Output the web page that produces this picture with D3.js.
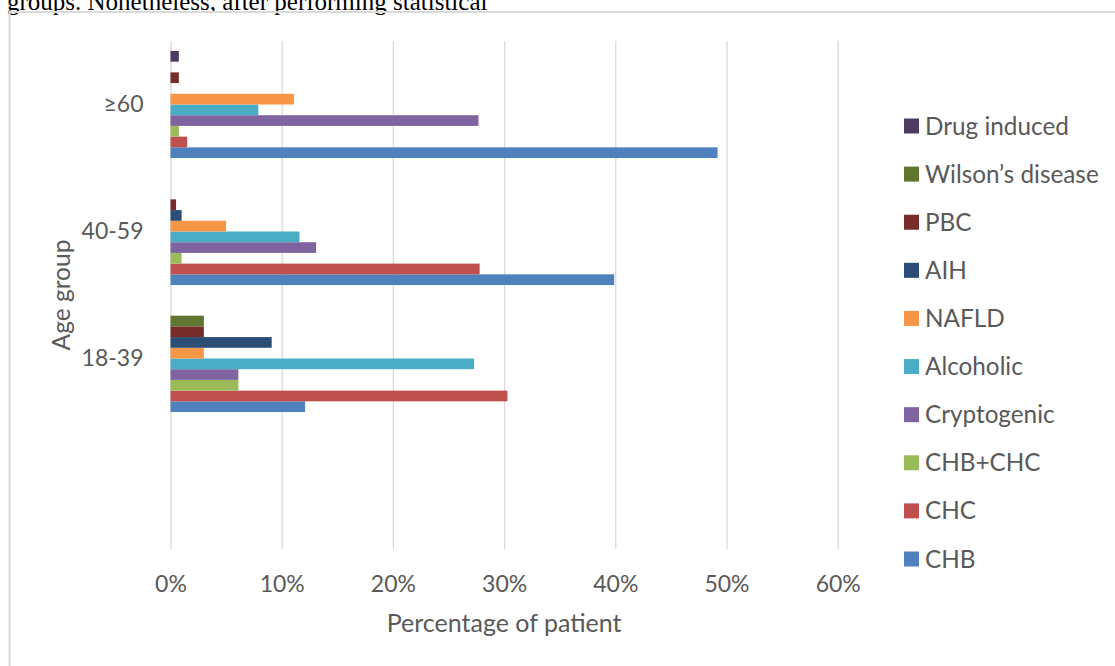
<!DOCTYPE html>
<html>
<head>
<meta charset="utf-8">
<script src="https://cdn.jsdelivr.net/npm/d3@7"></script>
<style>
  html, body { margin: 0; padding: 0; background: #ffffff; }
  svg { display: block; }
</style>
</head>
<body>
<svg id="chart" width="1115" height="666"></svg>
<script>
// Age groups, top to bottom; the trailing blank keeps an empty slot under 18-39
const ageGroups = ["≥60", "40-59", "18-39", ""];

// Diagnoses in plotting order (bottom of each group first)
const seriesNames = ["CHB", "CHC", "CHB+CHC", "Cryptogenic", "Alcoholic",
                     "NAFLD", "AIH", "PBC", "Wilson’s disease", "Drug induced"];

// Share of patients (%) per diagnosis, for [18-39, 40-59, ≥60]
const chb          = [12.1, 39.9, 49.2];
const chc          = [30.3, 27.8, 1.5];
const chbChc       = [6.1, 1.0, 0.75];
const cryptogenic  = [6.1, 13.1, 27.7];
const alcoholic    = [27.3, 11.6, 7.9];
const nafld        = [3.0, 5.0, 11.1];
const aih          = [9.1, 1.0, 0];
const pbc          = [3.0, 0.5, 0.75];
const wilsons      = [3.0, 0, 0];
const drugInduced  = [0, 0, 0.75];

const seriesValues = [chb, chc, chbChc, cryptogenic, alcoholic,
                      nafld, aih, pbc, wilsons, drugInduced];
const valueGroups = ["18-39", "40-59", "≥60"];

const xTicks = [0, 0.1, 0.2, 0.3, 0.4, 0.5, 0.6];

const colors = ["#4F81BD", "#C0504D", "#9BBB59", "#8064A2", "#4BACC6",
                "#F79646", "#2C4D75", "#772C2A", "#5F7530", "#4D3B62"];

const svg = d3.select("#chart");
const font = "Lato, 'Open Sans', sans-serif";
const textColor = "#595959";

// Body text line above the chart box (its upper part runs off the page top)
svg.append("text")
  .attr("x", 7).attr("y", 10)
  .attr("font-family", "'Liberation Serif', 'Times New Roman', serif")
  .attr("font-size", 25)
  .attr("fill", "#000")
  .text("groups. Nonetheless, after performing statistical");

// Chart box border
svg.append("rect")
  .attr("x", 9.5).attr("y", 12)
  .attr("width", 1200).attr("height", 800)
  .attr("fill", "none")
  .attr("stroke", "#d9d9d9")
  .attr("stroke-width", 2);

const plot = { left: 170.5, right: 837.7, top: 41, bottom: 549 };

const x = d3.scaleLinear().domain([0, 0.6]).range([plot.left, plot.right]);
const y0 = d3.scaleBand().domain(ageGroups).range([plot.top, plot.bottom]).padding(0);
const y1 = d3.scaleBand()
  .domain(seriesNames.slice().reverse())
  .range([0, y0.bandwidth()])
  .paddingInner(0)
  .paddingOuter(0.93);
const color = d3.scaleOrdinal().domain(seriesNames).range(colors);

// Vertical gridlines and percentage labels
const xAxis = svg.append("g")
  .attr("transform", `translate(0,${plot.bottom})`)
  .call(d3.axisBottom(x).tickValues(xTicks).tickFormat(d3.format(".0%"))
        .tickSize(-(plot.bottom - plot.top)));
xAxis.select(".domain").remove();
xAxis.selectAll(".tick line").attr("stroke", "#d9d9d9").attr("stroke-width", 1.3);
xAxis.selectAll(".tick text")
  .attr("y", 35).attr("dy", "0.35em")
  .attr("font-family", font).attr("font-size", 23).attr("fill", textColor);

// Bars
const groups = svg.append("g").selectAll("g")
  .data(valueGroups)
  .join("g")
  .attr("transform", g => `translate(0,${y0(g)})`);

groups.selectAll("rect")
  .data((g, gi) => seriesNames.map((s, si) => ({ s, v: seriesValues[si][gi] / 100 })))
  .join("rect")
  .filter(d => d.v > 0)
  .attr("x", x(0))
  .attr("y", d => y1(d.s))
  .attr("width", d => x(d.v) - x(0))
  .attr("height", y1.bandwidth())
  .attr("fill", d => color(d.s));

// Category axis labels
const yAxis = svg.append("g")
  .attr("transform", `translate(${plot.left},0)`)
  .call(d3.axisLeft(y0).tickSize(0).tickPadding(27));
yAxis.select(".domain").remove();
yAxis.selectAll(".tick text")
  .attr("font-family", font).attr("font-size", 23).attr("fill", textColor);

// Axis titles
svg.append("text")
  .attr("x", (plot.left + plot.right) / 2).attr("y", 623)
  .attr("dy", "0.35em")
  .attr("text-anchor", "middle")
  .attr("font-family", font).attr("font-size", 25).attr("fill", textColor)
  .text("Percentage of patient");

svg.append("text")
  .attr("transform", `translate(61,${(plot.top + plot.bottom) / 2}) rotate(-90)`)
  .attr("dy", "0.35em")
  .attr("text-anchor", "middle")
  .attr("font-family", font).attr("font-size", 24.5).attr("fill", textColor)
  .text("Age group");

// Legend, top entry first
const legendItems = seriesNames.slice().reverse();
const legendY = d3.scalePoint().domain(legendItems).range([126, 559]);
const legend = svg.append("g").selectAll("g")
  .data(legendItems)
  .join("g")
  .attr("transform", d => `translate(904,${legendY(d)})`);
legend.append("rect")
  .attr("x", 0).attr("y", -7.5)
  .attr("width", 15).attr("height", 15)
  .attr("fill", d => color(d));
legend.append("text")
  .attr("x", 21).attr("dy", "0.35em")
  .attr("font-family", font).attr("font-size", 24.3).attr("fill", textColor)
  .text(d => d);
</script>
</body>
</html>
